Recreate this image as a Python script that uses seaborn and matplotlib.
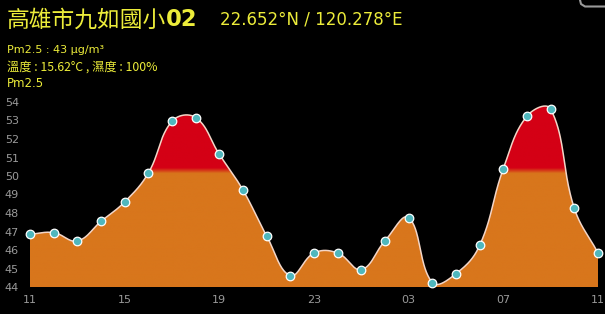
import numpy as np
import pandas as pd
import matplotlib
matplotlib.use("Agg")
import matplotlib.pyplot as plt
from matplotlib.lines import Line2D
import seaborn as sns

# ---------------- data ----------------
hours = ["11", "12", "13", "14", "15", "16", "17", "18", "19", "20", "21", "22",
         "23", "00", "01", "02", "03", "04", "05", "06", "07", "08", "09", "10", "11"]
pm25 = [46.85, 46.94, 46.49, 47.55, 48.6, 50.16, 52.96, 53.16, 51.17, 49.24, 46.76, 44.62,
        45.84, 45.84, 44.94, 46.5, 47.75, 44.24, 44.72, 46.25, 50.4, 53.24, 53.62, 48.25, 45.84]
tick_every = 4
y_ticks = list(range(44, 55))
title_name = "高雄市九如國小"
title_num = "02"
title_coord = "22.652°N / 120.278°E"
info_line1 = "Pm2.5 : 43 μg/m³"
info_line2 = "溫度 : 15.62°C , 濕度 : 100%"
series_label = "Pm2.5"
threshold = 50.3

# ---------------- style ----------------
sns.set_theme(style="dark")
plt.rcParams["font.family"] = ["Noto Sans CJK TC", "DejaVu Sans"]

BG = "#000000"
YELLOW = "#ecec3a"
GRAY = "#9a9a9a"
RED = np.array([212, 0, 21]) / 255
ORANGE = np.array([216, 118, 28]) / 255
LINE = "#f3d6c8"
DOT = "#4fb7bd"

fig = plt.figure(figsize=(6.05, 3.14), dpi=100, facecolor=BG)
W, H = 605, 314
ax_left, ax_right = 30 / W, 598 / W
ax_bottom, ax_top = 1 - 287 / H, 1 - 102 / H
ax = fig.add_axes([ax_left, ax_bottom, ax_right - ax_left, ax_top - ax_bottom])
ax.set_facecolor(BG)

x = np.arange(len(pm25), dtype=float)
y = np.array(pm25, dtype=float)

# Chart.js-like bezier smoothing (tension 0.4), computed in pixel space
sx, sy = 23.67, 18.5
px, py = x * sx, y * sy
n = len(px)
tension = 0.4
cp_prev = np.zeros((n, 2))
cp_next = np.zeros((n, 2))
for i in range(n):
    p1 = np.array([px[i], py[i]])
    p0 = np.array([px[i - 1], py[i - 1]]) if i > 0 else p1
    p2 = np.array([px[i + 1], py[i + 1]]) if i < n - 1 else p1
    d01 = np.hypot(*(p1 - p0))
    d12 = np.hypot(*(p2 - p1))
    tot = d01 + d12
    s01 = d01 / tot if tot else 0
    s12 = d12 / tot if tot else 0
    cp_prev[i] = p1 - tension * s01 * (p2 - p0)
    cp_next[i] = p1 + tension * s12 * (p2 - p0)

cx, cy = [], []
tt = np.linspace(0, 1, 40)
for i in range(n - 1):
    P0 = np.array([px[i], py[i]])
    P1 = cp_next[i]
    P2 = cp_prev[i + 1]
    P3 = np.array([px[i + 1], py[i + 1]])
    pts = ((1 - tt)[:, None] ** 3 * P0 + 3 * ((1 - tt) ** 2 * tt)[:, None] * P1
           + 3 * ((1 - tt) * tt ** 2)[:, None] * P2 + (tt ** 3)[:, None] * P3)
    if i > 0:
        pts = pts[1:]
    cx.extend(pts[:, 0] / sx)
    cy.extend(pts[:, 1] / sy)
cx, cy = np.array(cx), np.array(cy)

curve = pd.DataFrame({"x": cx, "y": cy})
points = pd.DataFrame({"x": x, "y": y, "hour": hours})

ax.set_xlim(0, n - 1)
ax.set_ylim(44, 54)

# gradient fill (red above threshold, orange below)
fill = ax.fill_between(cx, 44, cy, color="none", lw=0)
grid_y = np.linspace(44, 54, 400)
blend = np.clip((grid_y - (threshold - 0.15)) / 0.3, 0, 1)[:, None]
img = ORANGE[None, :] * (1 - blend) + RED[None, :] * blend
img = np.repeat(img[:, None, :], 2, axis=1)
im = ax.imshow(img, extent=[0, n - 1, 44, 54], origin="lower", aspect="auto", zorder=1)
path = fill.get_paths()[0]
im.set_clip_path(path, transform=ax.transData)

sns.lineplot(data=curve, x="x", y="y", ax=ax, color=LINE, lw=1.1, sort=False,
             estimator=None, zorder=2)
sns.scatterplot(data=points, x="x", y="y", ax=ax, color=DOT, s=38,
                edgecolor="white", linewidth=0.9, zorder=3, clip_on=False)

ax.set_xticks(x[::tick_every])
ax.set_xticklabels(hours[::tick_every])
ax.set_yticks(y_ticks)
ax.set_yticklabels([str(v) for v in y_ticks])
ax.tick_params(axis="both", colors=GRAY, labelsize=8, length=0)
ax.tick_params(axis="x", pad=6)
ax.tick_params(axis="y", pad=8)
for lab in ax.get_xticklabels() + ax.get_yticklabels():
    lab.set_fontfamily(["DejaVu Sans"])
ax.set_xlabel("")
ax.set_ylabel("")
ax.grid(False)
for s in ax.spines.values():
    s.set_visible(False)

# ---------------- texts ----------------
def fx(v):
    return v / W

def fy(v):
    return 1 - v / H

t1 = fig.text(fx(7), fy(20), title_name, color=YELLOW, fontsize=16.4, va="center", ha="left")
fig.canvas.draw()
r = fig.canvas.get_renderer()
bb = t1.get_window_extent(r)
t2 = fig.text(bb.x1 / W, fy(20), title_num, color=YELLOW, fontsize=16.4, fontweight="bold",
              va="center", ha="left", family=["DejaVu Sans"])
fig.text(fx(220), fy(20), title_coord, color=YELLOW, fontsize=12, va="center", ha="left",
         family=["DejaVu Sans"])
fig.text(fx(7), fy(50), info_line1, color=YELLOW, fontsize=8, va="center", ha="left",
         family=["DejaVu Sans"])
fig.text(fx(7), fy(67), info_line2, color=YELLOW, fontsize=8.8, va="center", ha="left",
         family=["Noto Sans CJK TC", "DejaVu Sans"])
fig.text(fx(7), fy(83), series_label, color=YELLOW, fontsize=8.5, va="center", ha="left",
         family=["DejaVu Sans"])

# small border fragment at top-right
fig.add_artist(Line2D([fx(580), fx(581), fx(585), fx(605)], [fy(0), fy(4), fy(6.5), fy(6.5)],
                      color="#9a9a9a", lw=1.5))

fig.savefig("out.png", dpi=100, facecolor=BG)
